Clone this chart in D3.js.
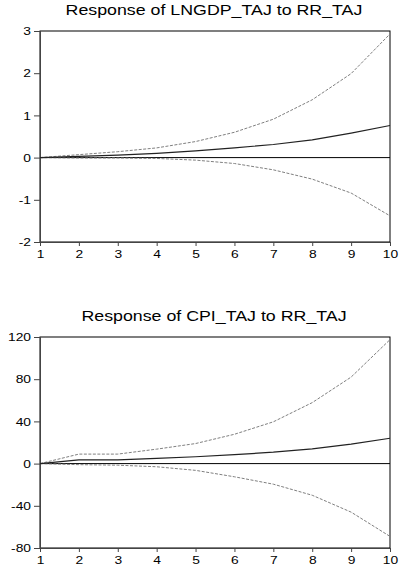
<!DOCTYPE html>
<html>
<head>
<meta charset="utf-8">
<script src="https://cdn.jsdelivr.net/npm/d3@7"></script>
<style>
  body { margin: 0; background: #fff; }
  svg { display: block; font-family: "Liberation Sans", Arial, sans-serif; }
</style>
</head>
<body>
<svg id="chart" width="401" height="572"></svg>
<script>
// periods after the shock
var periods = [1, 2, 3, 4, 5, 6, 7, 8, 9, 10];

// Response of LNGDP_TAJ to RR_TAJ
var gdpResponse = [0, 0.03, 0.06, 0.10, 0.16, 0.23, 0.31, 0.42, 0.58, 0.76];
var gdpUpper    = [0, 0.07, 0.14, 0.23, 0.38, 0.60, 0.91, 1.37, 1.99, 2.93];
var gdpLower    = [0, -0.01, -0.01, -0.02, -0.06, -0.14, -0.29, -0.51, -0.84, -1.38];
var gdpTicks    = [-2, -1, 0, 1, 2, 3];

// Response of CPI_TAJ to RR_TAJ
var cpiResponse = [0, 3.5, 3.6, 5, 6.5, 8.5, 10.8, 14, 18.5, 24];
var cpiUpper    = [0, 9, 9, 13.7, 19, 27.8, 39.6, 57.8, 82, 117.5];
var cpiLower    = [0, -1, -1.5, -3, -6.4, -12.5, -19.5, -30, -46, -69];
var cpiTicks    = [-80, -40, 0, 40, 80, 120];

var svg = d3.select('#chart');

// the picture is a bit wider than tall, so the glyphs are stretched sideways
function stretch(sel, k) {
    sel.each(function () {
        var w = this.getComputedTextLength();
        d3.select(this)
            .attr('textLength', w * k)
            .attr('lengthAdjust', 'spacingAndGlyphs');
    });
}

function make_panel(top, title, response, upper, lower, ticks) {
    var left = 40, right = 390, height = 211;

    var x = d3.scaleLinear().domain([1, 10]).range([left, right]);
    var y = d3.scaleLinear().domain([ticks[0], ticks[ticks.length - 1]]).range([top + height, top]);

    var g = svg.append('g');

    // title
    var t = g.append('text')
        .attr('x', (left + right) / 2 - 1)
        .attr('y', top - 16)
        .attr('text-anchor', 'middle')
        .attr('font-size', '14px')
        .text(title);
    stretch(t, 1.27);

    // frame
    g.append('rect')
        .attr('x', left).attr('y', top)
        .attr('width', right - left).attr('height', height)
        .attr('fill', 'none')
        .attr('stroke', '#000')
        .attr('stroke-width', 1);

    // zero line
    g.append('line')
        .attr('x1', left).attr('x2', right)
        .attr('y1', y(0)).attr('y2', y(0))
        .attr('stroke', '#000');

    var yAxis = d3.axisLeft(y).tickValues(ticks).tickSize(6).tickPadding(3)
        .tickFormat(function (d) { return String(d); });
    var ya = g.append('g').attr('transform', 'translate(' + left + ',0)').call(yAxis);
    var xAxis = d3.axisBottom(x).tickValues(periods).tickSize(4).tickPadding(4)
        .tickFormat(function (d) { return String(d); });
    var xa = g.append('g').attr('transform', 'translate(0,' + (top + height) + ')').call(xAxis);

    [ya, xa].forEach(function (a) {
        a.select('.domain').attr('stroke', '#444');
        a.selectAll('.tick line').attr('stroke', '#444');
        a.selectAll('.tick text')
            .attr('font-size', '11.5px')
            .attr('font-family', '"Liberation Sans", Arial, sans-serif')
            .attr('fill', '#000');
        stretch(a.selectAll('.tick text'), 1.2);
    });

    var line = d3.line()
        .x(function (d, i) { return x(periods[i]); })
        .y(function (d) { return y(d); });

    g.append('path')
        .datum(upper)
        .attr('d', line)
        .attr('fill', 'none')
        .attr('stroke', '#808080')
        .attr('stroke-width', 1)
        .attr('stroke-dasharray', '3,1.5');

    g.append('path')
        .datum(lower)
        .attr('d', line)
        .attr('fill', 'none')
        .attr('stroke', '#808080')
        .attr('stroke-width', 1)
        .attr('stroke-dasharray', '3,1.5');

    g.append('path')
        .datum(response)
        .attr('d', line)
        .attr('fill', 'none')
        .attr('stroke', '#222')
        .attr('stroke-width', 1.2);
}

make_panel(31, 'Response of LNGDP_TAJ to RR_TAJ', gdpResponse, gdpUpper, gdpLower, gdpTicks);
make_panel(337, 'Response of CPI_TAJ to RR_TAJ', cpiResponse, cpiUpper, cpiLower, cpiTicks);
</script>
</body>
</html>
